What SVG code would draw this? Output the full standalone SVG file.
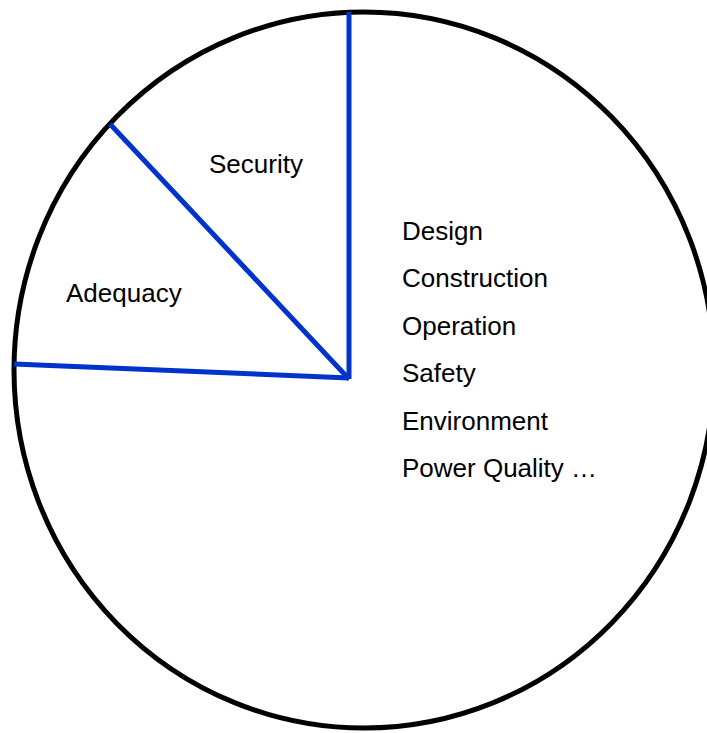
<svg xmlns="http://www.w3.org/2000/svg" width="707" height="733" viewBox="0 0 707 733">
<style>
.lbl{font-family:"Liberation Sans",Arial,sans-serif;font-size:26px;fill:#000}
.div{stroke:#0033cc;stroke-width:5;fill:none;stroke-linecap:butt}
</style>
<rect width="707" height="733" fill="#fff"/>
<g id="pie">
<ellipse cx="364" cy="370" rx="350" ry="358" fill="#fff" stroke="#000" stroke-width="5"/>
</g>
<g id="connectors">
<line class="div" x1="349" y1="12" x2="349" y2="379"/>
<line class="div" x1="110" y1="124" x2="349" y2="379"/>
<line class="div" x1="14" y1="364" x2="349" y2="378"/>
</g>
<g id="security"><text class="lbl" x="209" y="173">Security</text></g>
<g id="adequacy"><text class="lbl" x="66" y="302">Adequacy</text></g>
<g id="other">
<text class="lbl" x="402" y="240">Design</text>
<text class="lbl" x="402" y="287">Construction</text>
<text class="lbl" x="402" y="335">Operation</text>
<text class="lbl" x="402" y="382">Safety</text>
<text class="lbl" x="402" y="430">Environment</text>
<text class="lbl" x="402" y="477">Power Quality …</text>
</g>
</svg>
